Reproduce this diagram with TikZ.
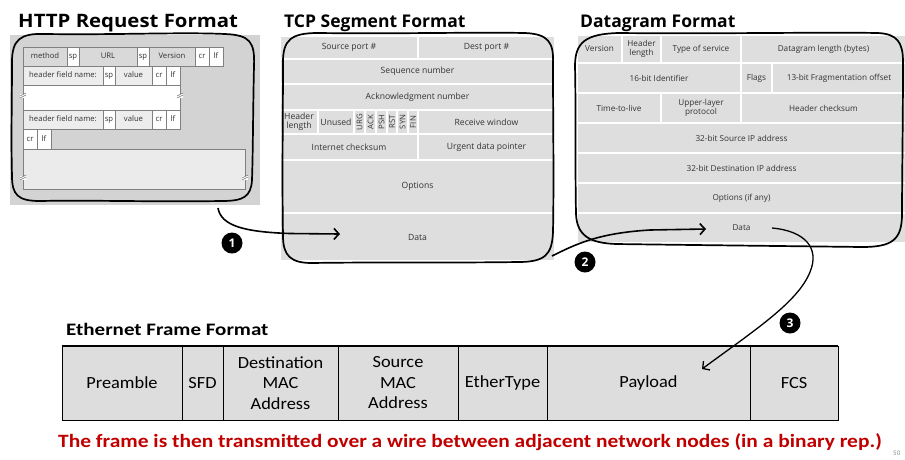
\documentclass[tikz,border=0pt]{standalone}
\usepackage{fontspec}
\setmainfont{Carlito}
\newfontfamily\osans{Open Sans}
\usetikzlibrary{arrows.meta}
\definecolor{pbg}{HTML}{DEDEDE}
\definecolor{hbg}{HTML}{D3D3D3}
\definecolor{hgray}{HTML}{D9D9D9}
\definecolor{hlight}{HTML}{EDEDED}
\definecolor{hbig}{HTML}{EBEBEB}
\definecolor{ebg}{HTML}{DDDDDD}
\definecolor{fldtxt}{HTML}{333333}
\definecolor{redtxt}{HTML}{C00000}
\newcommand{\fld}[7][]{%
  \pgfmathsetmacro\fw{#5-#3}\pgfmathsetmacro\fh{#6-#4}%
  \node[#1,minimum width=\fw pt,minimum height=\fh pt] (#2) at ({(#3+#5)/2},{(#4+#6)/2}) {#7};}
\newcommand{\brk}[2]{%
  \fill[white] ({#1-3},{#2-1.5}) rectangle ({#1+3},{#2+2.5});
  \draw[black!55,line width=0.5pt] ({#1-3},{#2+1}) -- ({#1+3},{#2-2});
  \draw[black!55,line width=0.5pt] ({#1-3},{#2+3}) -- ({#1+3},{#2});}
\newcommand{\ex}[1]{\scalebox{1.08}[1]{#1}}
\tikzset{
  tfld/.style={fill=pbg,draw=white,line width=1.3pt,inner sep=0.3pt,align=center,text=fldtxt,
    font=\osans\fontsize{8.6}{9.2}\selectfont},
  dfld/.style={tfld,font=\osans\fontsize{8.2}{9}\selectfont},
  hcell/.style={draw=black!50,line width=0.6pt,inner sep=0.3pt,text=fldtxt,
    text height=5.6pt,text depth=1.6pt,font=\osans\fontsize{7.7}{8}\selectfont},
  ecell/.style={fill=ebg,draw=black,line width=0.7pt,inner sep=0.5pt,align=center,
    font=\fontsize{17}{20.5}\selectfont},
  ttl/.style={anchor=base west,inner sep=0,font=\osans\bfseries\fontsize{17.5}{20}\selectfont},
  outl/.style={draw=black,line width=1.7pt,line join=round},
  conn/.style={draw=black,line width=1.6pt,-{Straight Barb[length=5pt,width=11pt,line width=1.6pt]}},
  conn3/.style={draw=black,line width=1.3pt,-{Straight Barb[length=5pt,width=11pt,line width=1.3pt]}},
  badge/.style={circle,fill=black,text=white,inner sep=0,minimum size=21pt,
    font=\osans\bfseries\fontsize{12}{12}\selectfont},
}
\begin{document}
\begin{tikzpicture}[x=1pt,y=-1pt]
\useasboundingbox (0,0) rectangle (905,459);

% ---------------- titles
\node[ttl,font=\osans\bfseries\fontsize{18.5}{20}\selectfont] (thttp) at (18,27) {\scalebox{1.1}[1]{HTTP Request Format}};
\node[ttl] (ttcp) at (284,27) {TCP Segment Format};
\node[ttl] (tdg) at (580,27) {Datagram Format};

% ---------------- HTTP panel
\fill[hbg] (10,35) rectangle (260,205);
\fld[hcell,fill=hgray]{h11}{23}{47}{67}{66}{method}
\fld[hcell,fill=white]{h12}{67}{47}{79}{66}{sp}
\fld[hcell,fill=hgray]{h13}{79}{47}{137}{66}{URL}
\fld[hcell,fill=white]{h14}{137}{47}{149}{66}{sp}
\fld[hcell,fill=hgray]{h15}{149}{47}{195}{66}{Version}
\fld[hcell,fill=white]{h16}{195}{47}{209}{66}{cr}
\fld[hcell,fill=white]{h17}{209}{47}{223}{66}{lf}
\fld[hcell,fill=hlight]{h21}{23}{66}{103}{85}{header field name:}
\fld[hcell,fill=white]{h22}{103}{66}{115}{85}{sp}
\fld[hcell,fill=hlight]{h23}{115}{66}{152}{85}{value}
\fld[hcell,fill=white]{h24}{152}{66}{166}{85}{cr}
\fld[hcell,fill=white]{h25}{166}{66}{180}{85}{lf}
\fld[hcell,fill=white]{h3}{23}{85}{180}{110}{}
\fld[hcell,fill=hlight]{h41}{23}{110}{103}{129}{header field name:}
\fld[hcell,fill=white]{h42}{103}{110}{115}{129}{sp}
\fld[hcell,fill=hlight]{h43}{115}{110}{152}{129}{value}
\fld[hcell,fill=white]{h44}{152}{110}{166}{129}{cr}
\fld[hcell,fill=white]{h45}{166}{110}{180}{129}{lf}
\fld[hcell,fill=white]{h51}{23}{129}{37}{149}{cr}
\fld[hcell,fill=white]{h52}{37}{129}{51}{149}{lf}
\fld[hcell,fill=hbig]{h6}{23}{149}{245}{189}{}
\brk{23}{95}\brk{180}{95}\brk{23}{177}\brk{245}{177}

% ---------------- TCP panel
\fill[pbg] (280,36) rectangle (555,261);
\fld[tfld]{t11}{280}{36}{418}{59}{Source port \#}
\fld[tfld]{t12}{418}{36}{555}{59}{Dest port \#}
\fld[tfld]{t2}{280}{59}{555}{84}{Sequence number}
\fld[tfld]{t3}{280}{84}{555}{110}{Acknowledgment number}
\fld[tfld]{t41}{280}{110}{318}{134}{Header\\length}
\fld[tfld]{t42}{318}{110}{354}{134}{Unused}
\fld[tfld,font=\osans\fontsize{7.8}{8}\selectfont]{t43}{354}{110}{365}{134}{\rotatebox{90}{URG}}
\fld[tfld,font=\osans\fontsize{7.8}{8}\selectfont]{t44}{365}{110}{376}{134}{\rotatebox{90}{ACK}}
\fld[tfld,font=\osans\fontsize{7.8}{8}\selectfont]{t45}{376}{110}{387}{134}{\rotatebox{90}{PSH}}
\fld[tfld,font=\osans\fontsize{7.8}{8}\selectfont]{t46}{387}{110}{397}{134}{\rotatebox{90}{RST}}
\fld[tfld,font=\osans\fontsize{7.8}{8}\selectfont]{t47}{397}{110}{408}{134}{\rotatebox{90}{SYN}}
\fld[tfld,font=\osans\fontsize{7.8}{8}\selectfont]{t48}{408}{110}{418}{134}{\rotatebox{90}{FIN}}
\fld[tfld]{t49}{418}{110}{555}{134}{Receive window}
\fld[tfld]{t51}{280}{134}{418}{160}{Internet checksum}
\fld[tfld]{t52}{418}{134}{555}{160}{Urgent data pointer}
\fld[tfld]{t6}{280}{160}{555}{213}{Options}
\fld[tfld]{t7}{280}{213}{555}{261}{Data}

% ---------------- Datagram panel
\fill[pbg] (577,35) rectangle (905,243);
\fld[dfld]{d11}{577}{35}{622}{63}{Version}
\fld[dfld]{d12}{622}{35}{661}{63}{Header\\length}
\fld[dfld]{d13}{661}{35}{741}{63}{Type of service}
\fld[dfld]{d14}{741}{35}{906}{63}{Datagram length (bytes)}
\fld[dfld]{d21}{577}{63}{741}{93}{16-bit Identifier}
\fld[dfld]{d22}{741}{63}{772}{93}{Flags}
\fld[dfld]{d23}{772}{63}{906}{93}{13-bit Fragmentation offset}
\fld[dfld]{d31}{577}{93}{661}{123}{Time-to-live}
\fld[dfld]{d32}{661}{93}{741}{123}{Upper-layer\\protocol}
\fld[dfld]{d33}{741}{93}{906}{123}{Header checksum}
\fld[dfld]{d4}{577}{123}{906}{153}{32-bit Source IP address}
\fld[dfld]{d5}{577}{153}{906}{183}{32-bit Destination IP address}
\fld[dfld]{d6}{577}{183}{906}{213}{Options (if any)}
\fld[dfld]{d7}{577}{213}{906}{243}{Data}

% ---------------- hand-drawn outlines
\path[outl] (12,62) .. controls (12,40) and (20,33) .. (45,34)
  .. controls (120,35) and (180,32) .. (225,34)
  .. controls (250,35) and (255,42) .. (254,66)
  .. controls (253,110) and (253,150) .. (252,180)
  .. controls (251,197) and (243,201) .. (222,201)
  .. controls (150,202) and (90,200) .. (40,201)
  .. controls (18,201) and (12,195) .. (12,176)
  .. controls (11,140) and (12,100) .. cycle;
\path[outl] (283,62) .. controls (283,40) and (291,33) .. (318,33)
  .. controls (400,34) and (470,32) .. (525,33)
  .. controls (548,34) and (554,42) .. (553,64)
  .. controls (553,120) and (554,180) .. (553,232)
  .. controls (552,255) and (545,262) .. (518,262)
  .. controls (450,263) and (370,262) .. (312,263)
  .. controls (291,263) and (283,256) .. (283,236)
  .. controls (282,180) and (283,110) .. cycle;
\path[outl] (575,66) .. controls (575,42) and (586,34) .. (618,33)
  .. controls (720,34) and (820,32) .. (878,33)
  .. controls (897,34) and (903,42) .. (903,62)
  .. controls (903,120) and (902,180) .. (902,214)
  .. controls (902,240) and (892,247) .. (862,247)
  .. controls (780,246) and (690,245) .. (616,244)
  .. controls (590,243) and (577,236) .. (576,214)
  .. controls (575,160) and (576,110) .. cycle;

% ---------------- Ethernet frame
\node[anchor=base west,inner sep=0,font=\bfseries\fontsize{17.5}{20}\selectfont] (teth) at (66,335) {\scalebox{1.2}[1]{Ethernet Frame Format}};
\fld[ecell]{e1}{62}{346}{182}{420}{\ex{Preamble}}
\fld[ecell]{e2}{182}{346}{223}{420}{\ex{SFD}}
\fld[ecell]{e3}{223}{346}{338}{420}{\ex{Destination}\\\ex{MAC}\\\ex{Address}}
\fld[ecell]{e4}{338}{346}{458}{420}{\ex{Source}\\\ex{MAC}\\\ex{Address}}
\fld[ecell]{e5}{458}{346}{547}{420}{\ex{EtherType}}
\fld[ecell]{e6}{547}{346}{750}{420}{\ex{Payload}}
\fld[ecell]{e7}{750}{346}{838}{420}{\ex{FCS}}
\draw[line width=1.4pt] (e1.north west) -- (e7.north east);
\draw[line width=1.4pt] (e1.south west) -- (e7.south east);

\node[anchor=base west,inner sep=0,text=redtxt,font=\bfseries\fontsize{18.8}{20}\selectfont] (note) at (58,447)
  {\scalebox{1.14}[1]{The frame is then transmitted over a wire between adjacent network nodes (in a binary rep.)}};
\node[anchor=base west,inner sep=0,text=black!45,font=\fontsize{7}{8}\selectfont] (pg) at (893,455) {50};

% ---------------- connectors
\coordinate (a1s) at (218,208);
\coordinate (a1e) at (340,234);
\coordinate (a2s) at (552,256);
\coordinate (a2e) at (706,229);
\coordinate (a3s) at (772,228);
\coordinate (a3e) at (702,369);
\draw[conn] (a1s) .. controls (221,226) and (245,232) .. (290,233.5) -- (a1e);
\draw[conn] (a2s) .. controls (578,243) and (600,233) .. (650,230) -- (a2e);
\draw[conn3] (a3s) .. controls (805,231) and (820,248) .. (810,272)
  .. controls (798,302) and (755,330) .. (a3e);

\node[badge] (b1) at (232,243) {1};
\node[badge] (b2) at (585,262) {2};
\node[badge] (b3) at (790,323) {3};
\end{tikzpicture}
\end{document}
